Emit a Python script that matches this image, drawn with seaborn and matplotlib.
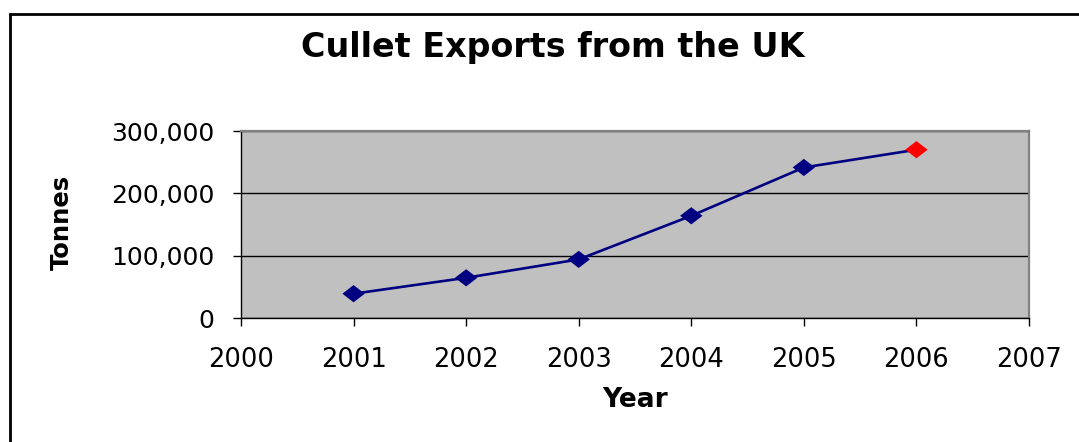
import matplotlib
matplotlib.use("Agg")
import matplotlib.pyplot as plt
import matplotlib.patches as mpatches
from matplotlib.ticker import FuncFormatter
import seaborn as sns
import pandas as pd

# ---- data ----
years = [2001, 2002, 2003, 2004, 2005, 2006]
tonnes = [39000, 64500, 94000, 164000, 241500, 270000]
highlight_year = 2006
title = "Cullet Exports from the UK"
xlabel = "Year"
ylabel = "Tonnes"
x_ticks = [2000, 2001, 2002, 2003, 2004, 2005, 2006, 2007]
y_ticks = [0, 100000, 200000, 300000]

df = pd.DataFrame({"Year": years, "Tonnes": tonnes})
df["Point"] = ["highlight" if y == highlight_year else "normal" for y in years]

sns.set_theme(style="white")
plt.rcParams["font.family"] = ["DejaVu Sans"]

W, H = 1079, 442
fig = plt.figure(figsize=(W / 100, H / 100), dpi=100)
ax = fig.add_axes([241 / W, 1 - 318 / H, (1029 - 241) / W, (318 - 131) / H])
ax.set_facecolor("#C0C0C0")

navy = "#000080"
diamond = [(-1.3, 0), (0, 1), (1.3, 0), (0, -1), (-1.3, 0)]

sns.lineplot(data=df, x="Year", y="Tonnes", ax=ax, color=navy, linewidth=1.9,
             legend=False, zorder=3)
sns.scatterplot(data=df, x="Year", y="Tonnes", hue="Point",
                palette={"normal": navy, "highlight": "#FF0000"},
                marker=diamond, s=260, linewidth=0, ax=ax, legend=False, zorder=4)

ax.set_xlim(2000, 2007)
ax.set_ylim(0, 300000)
ax.set_xticks(x_ticks)
ax.set_yticks(y_ticks)
ax.yaxis.set_major_formatter(FuncFormatter(lambda v, p: f"{int(v):,}"))

ax.grid(axis="y", color="#000000", linewidth=1.0)
ax.grid(axis="x", visible=False)
ax.set_axisbelow(True)

for side in ["left", "bottom"]:
    ax.spines[side].set_color("#000000")
    ax.spines[side].set_linewidth(1.0)
for side in ["top", "right"]:
    ax.spines[side].set_color("#808080")
    ax.spines[side].set_linewidth(1.6)

ax.tick_params(axis="y", direction="out", length=6, width=1, color="#000000",
               left=True, pad=13, labelsize=18, labelcolor="#000000")
ax.tick_params(axis="x", direction="out", length=6, width=1, color="#000000",
               bottom=True, pad=15, labelsize=18.5, labelcolor="#000000")

ax.set_xlabel("")
ax.set_ylabel("")
fig.text(635 / W, 1 - 400 / H, xlabel, ha="center", va="center",
         fontsize=19, fontweight="bold", color="#000000")
fig.text(62 / W, 1 - 222 / H, ylabel, ha="center", va="center", rotation=90,
         fontsize=17.5, fontweight="bold", color="#000000")
fig.text(553 / W, 1 - 48 / H, title, ha="center", va="center",
         fontsize=24, fontweight="bold", color="#000000")

# outer chart border (right/bottom edges fall outside the image)
border = mpatches.Rectangle((9.5 / W, -0.2), 1.5, 1 - 14 / H + 0.2, fill=False,
                            edgecolor="#000000", linewidth=2.0,
                            transform=fig.transFigure)
fig.add_artist(border)

fig.savefig("out.png", dpi=100)
